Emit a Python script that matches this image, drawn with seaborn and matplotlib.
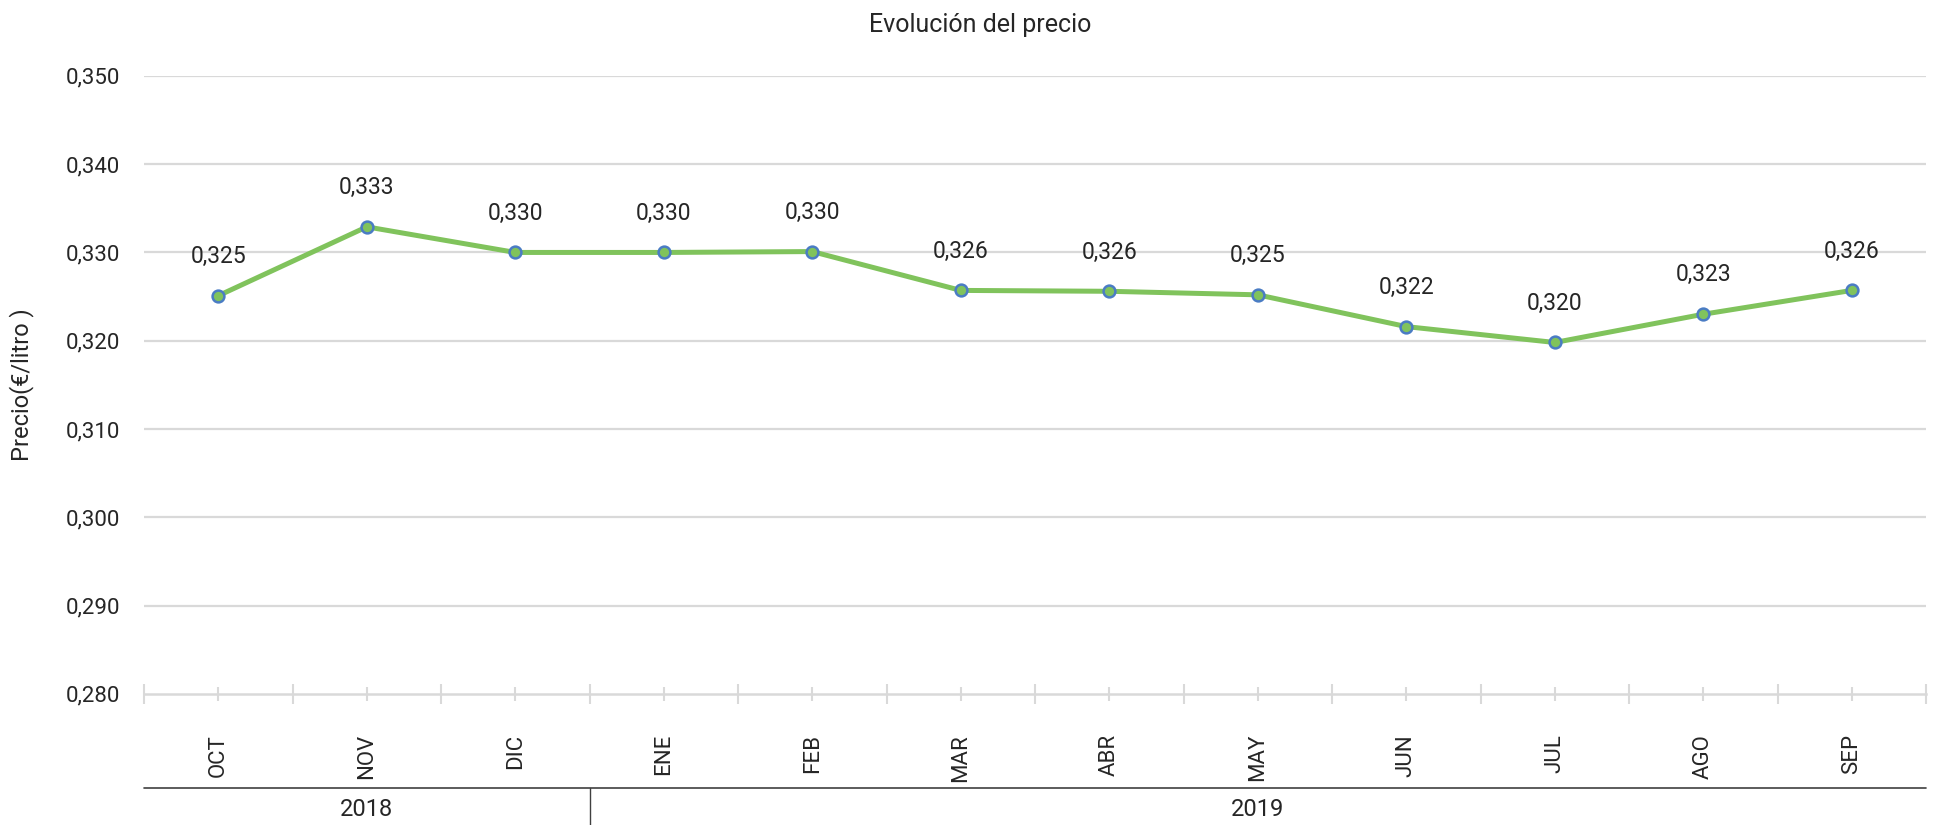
import matplotlib
matplotlib.use("Agg")
import matplotlib.pyplot as plt
import matplotlib.transforms as mtransforms
import pandas as pd
import seaborn as sns

# data
months = ["OCT", "NOV", "DIC", "ENE", "FEB", "MAR", "ABR", "MAY", "JUN", "JUL", "AGO", "SEP"]
prices = [0.3251, 0.3329, 0.3300, 0.3300, 0.3301, 0.3257, 0.3256, 0.3252, 0.3216, 0.3198, 0.3230, 0.3257]
years = ["2018", "2019"]
months_per_year = [3, 9]
y_ticks = [0.280, 0.290, 0.300, 0.310, 0.320, 0.330, 0.340, 0.350]

df = pd.DataFrame({"mes": months, "precio": prices})

sns.set_style("white")
plt.rcParams["font.family"] = ["Roboto", "DejaVu Sans"]

line_color = "#80C35C"
edge_color = "#4A7CC4"
grid_color = "#D9D9D9"
text_color = "#262626"

fig = plt.figure(figsize=(19.52, 8.25), dpi=100)
ax = fig.add_axes([0.0738, 0.159, 0.9129, 0.749])

sns.lineplot(data=df, x="mes", y="precio", sort=False, ax=ax,
             color=line_color, linewidth=3.6, marker="o", markersize=8.5,
             markerfacecolor=line_color, markeredgecolor=edge_color,
             markeredgewidth=1.8, zorder=3)

# value labels
for i, v in enumerate(prices):
    ax.annotate(f"{v:.3f}".replace(".", ","), (i, v), xytext=(0, 20),
                textcoords="offset points", ha="center", va="bottom",
                fontsize=16.5, color=text_color)

ax.set_xlim(-0.5, len(months) - 0.5)
ax.set_ylim(y_ticks[0], y_ticks[-1])
ax.set_yticks(y_ticks)
ax.set_yticklabels([f"{t:.3f}".replace(".", ",") for t in y_ticks],
                   fontsize=16, color=text_color)
for t in y_ticks[1:]:
    ax.axhline(t, color=grid_color, linewidth=1.6, zorder=1)

# x axis: labels at centers, longer ticks at category borders
ax.set_xticks(range(len(months)))
ax.set_xticklabels(months, rotation=90, fontsize=16, color=text_color)
ax.set_xticks([i - 0.5 for i in range(len(months) + 1)], minor=True)
ax.tick_params(axis="x", which="both", bottom=True)
ax.tick_params(axis="x", which="major", direction="inout", length=10,
               width=1.5, color=grid_color, pad=24)
ax.tick_params(axis="x", which="minor", direction="inout", length=15,
               width=1.5, color=grid_color)
ax.tick_params(axis="y", length=0, pad=17)

for side in ["top", "right", "left"]:
    ax.spines[side].set_visible(False)
ax.spines["bottom"].set_color(grid_color)
ax.spines["bottom"].set_linewidth(1.8)

ax.set_xlabel("")
ax.set_ylabel("Precio(€/litro )", fontsize=17, color=text_color)
ax.yaxis.set_label_coords(-0.062, 0.5)

# year row under the months
trans = mtransforms.blended_transform_factory(ax.transData, ax.transAxes)
ax.plot([-0.5, len(months) - 0.5], [-0.152, -0.152], transform=trans,
        color="#404040", linewidth=1.2, clip_on=False)
start = -0.5
for yr, n in zip(years, months_per_year):
    ax.text(start + n / 2, -0.188, yr, transform=trans, ha="center",
            va="center", fontsize=17, color=text_color)
    end = start + n
    if end < len(months) - 0.5:
        ax.plot([end, end], [-0.152, -0.215], transform=trans,
                color="#404040", linewidth=1.0, clip_on=False)
    start = end

fig.suptitle("Evolución del precio", x=0.502, y=0.97, va="center",
             fontsize=18, color=text_color)

fig.savefig("out.png", dpi=100)
